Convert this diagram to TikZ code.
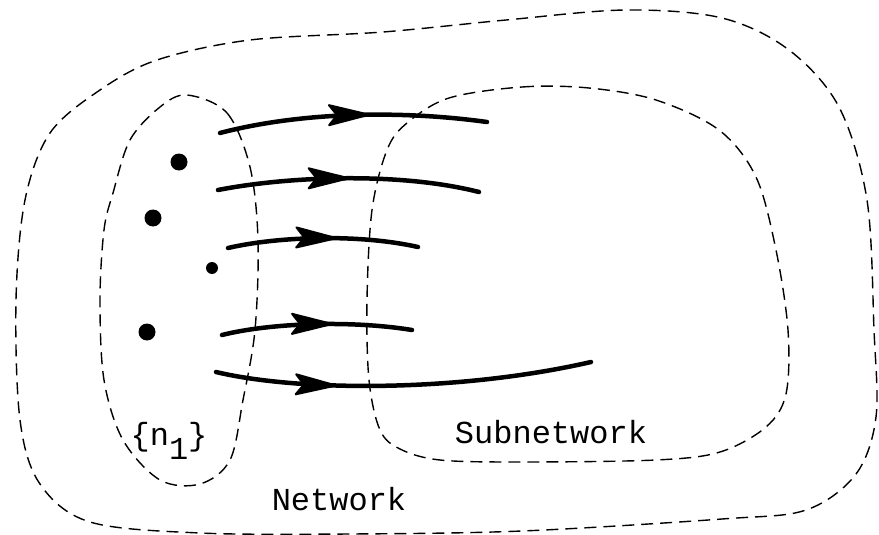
\documentclass[tikz,border=0pt]{standalone}
\usepackage{fontspec}
\usepackage{tikz}
\usetikzlibrary{decorations.markings}
\newfontfamily\monofont{Liberation Mono}

\begin{document}
\begin{tikzpicture}
  [
    x = 1pt, y = -1pt,  % pixel grid, y going down
    every node/.style = {font = \monofont\fontsize{32}{36}\selectfont},
    region/.style = {dash pattern = on 12pt off 7pt, line width = 1.4pt},
    dot/.style = {circle, fill, inner sep = 0pt, minimum size = 17pt},
    flow/.style = {line width = 4.5pt, line cap = round, postaction = {decorate},
      decoration = {markings, mark = at position #1 with
        {\filldraw[line width = 2pt, line join = round]
           (0,0) -- (-40,10) -- (-32,0) -- (-40,-10) -- cycle;}}}
  ]
  \useasboundingbox (0,0) rectangle (879,535);
  \draw[region] plot[smooth cycle, tension = 0.55] coordinates {
    (16,300) (20,420) (40,484) (90,522) (200,533) (350,534) (522,531)
    (722,519) (806,510) (856,474) (876,417) (874,330) (867,200) (839,107)
    (789,50) (722,18) (626,10) (506,20) (383,32) (250,40) (157,60)
    (100,90) (50,133) (25,200)};
  \draw[region] plot[smooth cycle, tension = 0.55] coordinates {
    (187,95) (227,113) (250,167) (258,240) (255,330) (243,400) (230,460)
    (200,484) (160,480) (123,440) (104,380) (100,300) (104,230) (113,193)
    (130,140) (160,107)};
  \draw[region] plot[smooth cycle, tension = 0.55] coordinates {
    (449,98) (522,87) (589,88) (656,100) (719,130) (756,177) (776,250)
    (788,330) (786,394) (766,427) (720,452) (656,460) (522,462) (440,460)
    (400,449) (380,430) (369,380) (367,300) (372,210) (387,150) (407,123)};

  \node[dot] (D1) at (179,162) {};
  \node[dot] (D2) at (153,218) {};
  \node[dot, minimum size = 12pt] (D3) at (212,268) {};
  \node[dot] (D4) at (147,332) {};

  \coordinate (S1) at (220,133); \coordinate (E1) at (487,122);
  \coordinate (S2) at (218,190); \coordinate (E2) at (479,192);
  \coordinate (S3) at (228,248); \coordinate (E3) at (418,247);
  \coordinate (S4) at (222,335); \coordinate (E4) at (412,330);
  \coordinate (S5) at (216,372); \coordinate (E5) at (591,362);
  \draw[flow = 0.56] (S1) .. controls (300,112) and (400,110) .. (E1);
  \draw[flow = 0.5]  (S2) .. controls (290,176) and (400,172) .. (E2);
  \draw[flow = 0.57] (S3) .. controls (280,236) and (360,234) .. (E3);
  \draw[flow = 0.58] (S4) .. controls (270,323) and (350,320) .. (E4);
  \draw[flow = 0.32] (S5) .. controls (300,392) and (460,392) .. (E5);

  \node[anchor = base] (Set) at (169,445) {\{n\raisebox{-0.45em}{1}\}};
  \node[anchor = base] (Sub) at (551,443) {Subnetwork};
  \node[anchor = base] (Net) at (339,510) {Network};
\end{tikzpicture}
\end{document}
